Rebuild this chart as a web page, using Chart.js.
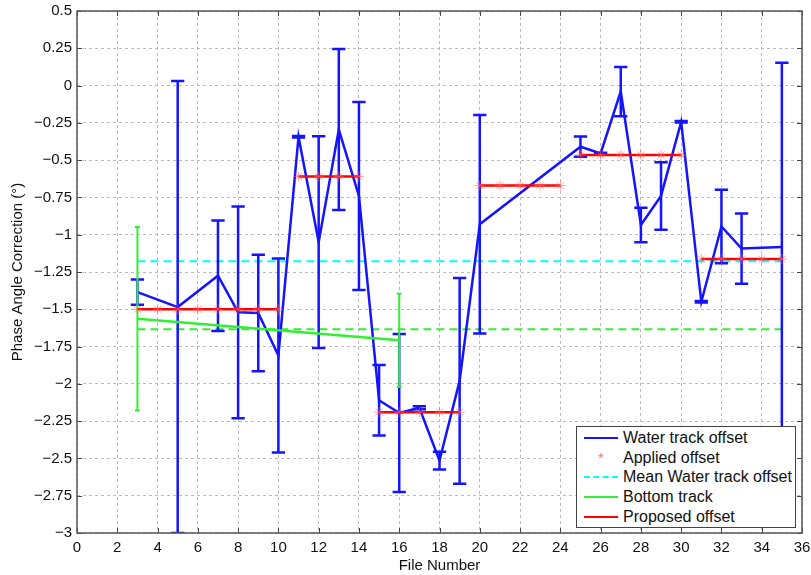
<!DOCTYPE html>
<html>
<head>
<meta charset="utf-8">
<script src="https://cdn.jsdelivr.net/npm/chart.js@4.4.0/dist/chart.umd.min.js"></script>
<style>
    body { margin: 0; background: #fff; }
    #wrap { position: relative; width: 811px; height: 575px; }
    #legend {
        position: absolute; left: 576px; top: 426px; width: 220px; height: 102px;
        background: #fff; border: 1px solid #444; box-sizing: border-box;
        font-family: 'Liberation Sans', Arial, sans-serif; font-size: 16px; color: #111;
        padding-top: 1px;
    }
    #legend .row { height: 19.8px; display: flex; align-items: center; }
    #legend .sample { width: 34px; margin-left: 7px; margin-right: 5px; height: 0; }
    #legend .star { width: 34px; margin-left: 7px; margin-right: 5px; text-align: center; color: #f77; font-size: 15px; }
</style>
</head>
<body>
<div id="wrap">
    <canvas id="chart" width="811" height="575"></canvas>
    <div id="legend">
        <div class="row"><div class="sample" style="border-top: 2.5px solid #1414ff"></div>Water track offset</div>
        <div class="row"><div class="star">*</div>Applied offset</div>
        <div class="row"><div class="sample" style="border-top: 2px dashed #00ffff"></div>Mean Water track offset</div>
        <div class="row"><div class="sample" style="border-top: 2.5px solid #33ee33"></div>Bottom track</div>
        <div class="row"><div class="sample" style="border-top: 2.5px solid #ff0000"></div>Proposed offset</div>
    </div>
</div>
<script>
// water track offset per file, with error bar half-widths
const waterX = [3, 5, 7, 8, 9, 10, 11, 12, 13, 14, 15, 16, 17, 18, 19, 20, 25, 26, 27, 28, 29, 30, 31, 32, 33, 35];
const waterY = [-1.385, -1.485, -1.275, -1.52, -1.525, -1.81, -0.343, -1.05, -0.295, -0.74, -2.11, -2.195, -2.16, -2.515, -1.98, -0.93,
    -0.41, -0.455, -0.04, -0.935, -0.74, -0.243, -1.45, -0.945, -1.093, -1.082];
const waterErr = [0.085, 1.515, 0.37, 0.71, 0.39, 0.65, 0.005, 0.71, 0.54, 0.63, 0.237, 0.53, 0.01, 0.06, 0.69, 0.733,
    0.068, 0.005, 0.165, 0.115, 0.226, 0.005, 0.005, 0.247, 0.235, 1.235];

// bottom track
const bottomX = [3, 16];
const bottomY = [-1.563, -1.708];
const bottomErr = [0.615, 0.313];

// means, drawn across the file range
const meanRange = [3, 35];
const meanWater = -1.178;
const meanBottom = -1.634;

// applied offset per file (asterisks)
const appliedX = [3, 4, 5, 6, 7, 8, 9, 10, 11, 12, 13, 14, 15, 16, 17, 18, 19, 20, 21, 22, 23, 24, 25, 26, 27, 28, 29, 30, 31, 32, 33, 34, 35];
const appliedY = [-1.5, -1.5, -1.5, -1.5, -1.5, -1.5, -1.5, -1.5, -0.61, -0.61, -0.61, -0.61, -2.19, -2.19, -2.19, -2.19, -2.19,
    -0.67, -0.67, -0.67, -0.67, -0.67, -0.465, -0.465, -0.465, -0.465, -0.465, -0.465, -1.163, -1.163, -1.163, -1.163, -1.163];

// proposed offset segments
const proposedStart = [3, 11, 15, 20, 25, 31];
const proposedEnd = [10, 14, 19, 24, 30, 35];
const proposedVal = [-1.5, -0.61, -2.19, -0.67, -0.465, -1.163];

const xTicks = {min: 0, max: 36, step: 2};
const yTicks = {min: -3, max: 0.5, step: 0.25};

const BLUE = '#1414ff', GREEN = '#33ee33', RED = '#ff0000', CYAN = '#00ffff';

function toPoints(xs, ys) {
    return xs.map((x, i) => ({x: x, y: ys[i]}));
}

// error bars as broken line segments: stem + two caps
function errorBars(xs, ys, errs, capHalf) {
    const pts = [];
    xs.forEach((x, i) => {
        const lo = ys[i] - errs[i], hi = ys[i] + errs[i];
        pts.push({x: x, y: lo}, {x: x, y: hi}, {x: x, y: null});
        pts.push({x: x - capHalf, y: hi}, {x: x + capHalf, y: hi}, {x: x, y: null});
        pts.push({x: x - capHalf, y: lo}, {x: x + capHalf, y: lo}, {x: x, y: null});
    });
    return pts;
}

function segments(starts, ends, vals) {
    const pts = [];
    starts.forEach((s, i) => {
        pts.push({x: s, y: vals[i]}, {x: ends[i], y: vals[i]}, {x: ends[i], y: null});
    });
    return pts;
}

const lineBase = {pointRadius: 0, tension: 0, fill: false, spanGaps: false};

// axis box with inward tick marks like the original
const framePlugin = {
    id: 'frame',
    afterDatasetsDraw(chart) {
        const {ctx, chartArea: a, scales} = chart;
        ctx.save();
        ctx.strokeStyle = '#444';
        ctx.lineWidth = 1;
        ctx.beginPath();
        scales.x.ticks.forEach(t => {
            const px = Math.round(scales.x.getPixelForValue(t.value)) + 0.5;
            ctx.moveTo(px, a.bottom); ctx.lineTo(px, a.bottom - 5);
            ctx.moveTo(px, a.top); ctx.lineTo(px, a.top + 5);
        });
        scales.y.ticks.forEach(t => {
            const py = Math.round(scales.y.getPixelForValue(t.value)) + 0.5;
            ctx.moveTo(a.left, py); ctx.lineTo(a.left + 5, py);
            ctx.moveTo(a.right, py); ctx.lineTo(a.right - 5, py);
        });
        ctx.stroke();
        ctx.lineWidth = 1.5;
        ctx.strokeStyle = '#555';
        ctx.strokeRect(a.left, a.top, a.right - a.left, a.bottom - a.top);
        ctx.restore();
    }
};

function fmt(v) {
    const r = Math.round(v * 100) / 100;
    return r < 0 ? '\u2212' + Math.abs(r) : String(r);
}

Chart.defaults.font.family = "'Liberation Sans', Arial, sans-serif";
Chart.defaults.color = '#111';

new Chart(document.getElementById('chart'), {
    type: 'line',
    data: {
        datasets: [
            {label: 'Applied offset', data: toPoints(appliedX, appliedY), showLine: false, pointStyle: 'star',
                pointRadius: 5, borderColor: 'rgba(255,90,90,0.55)', backgroundColor: 'rgba(255,90,90,0.55)', borderWidth: 1, order: 1},
            {...lineBase, label: 'Proposed offset', data: segments(proposedStart, proposedEnd, proposedVal),
                borderColor: RED, borderWidth: 2.5, order: 2},
            {...lineBase, label: 'Bottom track err', data: errorBars(bottomX, bottomY, bottomErr, 0.12),
                borderColor: GREEN, borderWidth: 2, order: 3},
            {...lineBase, label: 'Bottom track', data: toPoints(bottomX, bottomY),
                borderColor: GREEN, borderWidth: 2.5, order: 4},
            {...lineBase, label: 'Water track offset', data: toPoints(waterX, waterY),
                borderColor: BLUE, borderWidth: 2.5, order: 5},
            {...lineBase, label: 'Water track err', data: errorBars(waterX, waterY, waterErr, 0.33),
                borderColor: BLUE, borderWidth: 2.5, order: 6},
            {...lineBase, label: 'Mean Bottom track', data: toPoints(meanRange, [meanBottom, meanBottom]),
                borderColor: GREEN, borderWidth: 2, borderDash: [8, 5], order: 7},
            {...lineBase, label: 'Mean Water track offset', data: toPoints(meanRange, [meanWater, meanWater]),
                borderColor: CYAN, borderWidth: 2, borderDash: [8, 5], order: 8}
        ]
    },
    options: {
        responsive: false,
        animation: false,
        events: [],
        layout: {autoPadding: false, padding: {left: 0, right: 9, top: 11, bottom: 0}},
        plugins: {legend: {display: false}, tooltip: {enabled: false}},
        scales: {
            x: {
                type: 'linear', min: xTicks.min, max: xTicks.max,
                ticks: {stepSize: xTicks.step, padding: 6, font: {size: 15}, color: '#111', maxRotation: 0},
                grid: {color: '#bbbbbb', drawTicks: false},
                border: {display: false, dash: [3, 3]},
                title: {display: true, text: 'File Number', font: {size: 15}, color: '#111', padding: {top: 0, bottom: 0}},
                afterFit(scale) {
                    scale.height = 42;
                    scale.paddingLeft = 0; scale.paddingRight = 0;
                }
            },
            y: {
                min: yTicks.min, max: yTicks.max,
                ticks: {stepSize: yTicks.step, padding: 5, font: {size: 15}, color: '#111', callback: v => fmt(v)},
                grid: {color: '#bbbbbb', drawTicks: false},
                border: {display: false, dash: [3, 3]},
                title: {display: true, text: 'Phase Angle Correction (°)', font: {size: 15}, color: '#111', padding: {top: 9, bottom: 0}},
                afterFit(scale) {
                    scale.width = 77;
                    scale.paddingTop = 0; scale.paddingBottom = 0;
                }
            }
        }
    },
    plugins: [framePlugin]
});
</script>
</body>
</html>
